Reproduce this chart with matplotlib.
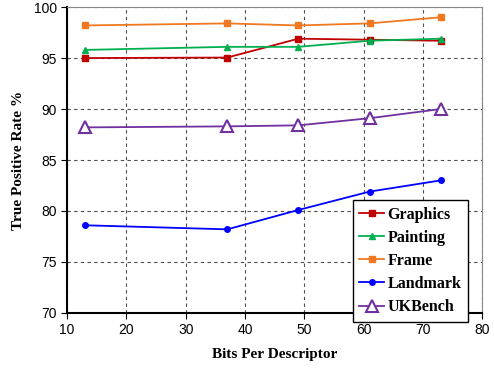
import matplotlib
matplotlib.use("Agg")
import matplotlib.pyplot as plt

bits = [13, 37, 49, 61, 73]
graphics = [95.0, 95.05, 96.9, 96.8, 96.7]
painting = [95.8, 96.1, 96.1, 96.7, 96.9]
frame = [98.2, 98.4, 98.2, 98.4, 99.0]
landmark = [78.6, 78.2, 80.1, 81.9, 83.0]
ukbench = [88.2, 88.3, 88.4, 89.1, 90.0]

fig = plt.figure(figsize=(4.94, 3.73), dpi=100)
ax = fig.add_axes([0.136, 0.161, 0.840, 0.820])

ax.plot(bits, graphics, color="#c00000", marker="s", ms=5, lw=1.3, label="Graphics")
ax.plot(bits, painting, color="#00b050", marker="^", ms=5, lw=1.3, label="Painting")
ax.plot(bits, frame, color="#f07820", marker="s", ms=5, lw=1.3, label="Frame")
ax.plot(bits, landmark, color="#0000ff", marker="o", ms=4, lw=1.3, label="Landmark")
ax.plot(bits, ukbench, color="#7030a0", marker="^", ms=8, lw=1.3,
        markerfacecolor="white", markeredgewidth=1.5, label="UKBench")

ax.set_xlim(10, 80)
ax.set_ylim(70, 100)
ax.set_xticks(range(10, 81, 10))
ax.set_yticks(range(70, 101, 5))
ax.grid(True, color="black", linestyle=(0, (3, 3)), linewidth=0.8, alpha=0.7)
ax.tick_params(labelsize=10, direction="out", length=4)
for lab in ax.get_xticklabels() + ax.get_yticklabels():
    lab.set_fontfamily("Liberation Sans")

for s in ["left", "bottom"]:
    ax.spines[s].set_linewidth(1.5)
for s in ["top", "right"]:
    ax.spines[s].set_color("#888888")

ax.set_xlabel("Bits Per Descriptor", fontfamily="Liberation Serif",
              fontweight="bold", fontsize=11, labelpad=8)
ax.set_ylabel("True Positive Rate %", fontfamily="Liberation Serif",
              fontweight="bold", fontsize=11, labelpad=6)

leg = ax.legend(loc="upper right", bbox_to_anchor=(0.985, 0.395),
                prop={"family": "Liberation Serif", "weight": "bold", "size": 11.5},
                fancybox=False, edgecolor="black", framealpha=1,
                handlelength=1.6, handletextpad=0.2, labelspacing=0.45,
                borderpad=0.4)
leg.get_frame().set_linewidth(1.0)

fig.savefig("out.png", dpi=100)
